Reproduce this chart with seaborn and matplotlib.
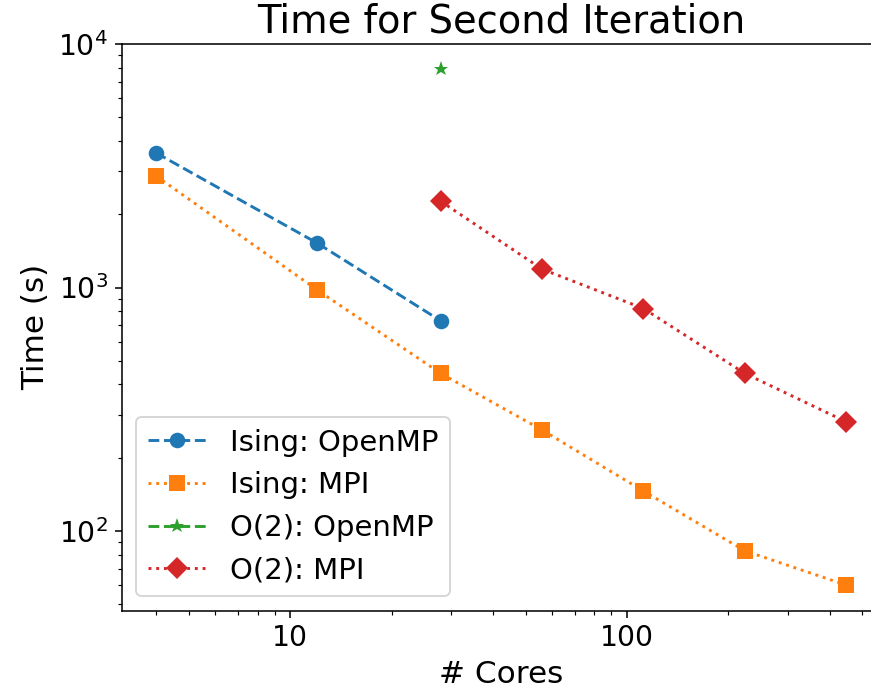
import matplotlib
matplotlib.use("Agg")
import matplotlib.pyplot as plt
import seaborn as sns
import pandas as pd

# Data
ising_omp_cores = [4, 12, 28]
ising_omp_time = [3570, 1525, 730]

ising_mpi_cores = [4, 12, 28, 56, 112, 224, 448]
ising_mpi_time = [2870, 980, 444, 260, 146, 83, 60]

o2_omp_cores = [28]
o2_omp_time = [7870]

o2_mpi_cores = [28, 56, 112, 224, 448]
o2_mpi_time = [2260, 1190, 820, 444, 281]

series_names = ["Ising: OpenMP", "Ising: MPI", "O(2): OpenMP", "O(2): MPI"]
series_cores = [ising_omp_cores, ising_mpi_cores, o2_omp_cores, o2_mpi_cores]
series_times = [ising_omp_time, ising_mpi_time, o2_omp_time, o2_mpi_time]

colors = ["#1f77b4", "#ff7f0e", "#2ca02c", "#d62728"]
markers = ["o", "s", "*", "D"]
linestyles = ["--", ":", "--", ":"]

sns.set_style("ticks")
plt.rcParams["font.family"] = ["DejaVu Sans"]
plt.rcParams["text.color"] = "black"
plt.rcParams["axes.labelcolor"] = "black"
plt.rcParams["xtick.color"] = "black"
plt.rcParams["ytick.color"] = "black"
plt.rcParams["axes.edgecolor"] = "black"

DPI = 140
fig = plt.figure(figsize=(871 / DPI, 696 / DPI), dpi=DPI)
ax = fig.add_axes([121.7 / 871, 1 - 610.7 / 696, (880.6 - 121.7) / 871, (610.7 - 44) / 696])

for name, xs, ys, c, m, ls in zip(series_names, series_cores, series_times, colors, markers, linestyles):
    df = pd.DataFrame({"cores": xs, "time": ys})
    sns.lineplot(data=df, x="cores", y="time", ax=ax, color=c, marker=m,
                 linestyle=ls, linewidth=1.5, markersize=8, markeredgewidth=0,
                 label=name, errorbar=None)

ax.set_xscale("log")
ax.set_yscale("log")
ax.set_xlim(3.16, 567)
ax.set_ylim(47.1, 10000)

ax.set_xticks([10, 100])
ax.set_xticklabels(["10", "100"])

ax.tick_params(axis="both", which="major", labelsize=14.5, length=3.5, width=0.8, direction="out")
ax.tick_params(axis="both", which="minor", length=2, width=0.6, direction="out")
for sp in ax.spines.values():
    sp.set_linewidth(0.8)
    sp.set_color("black")

ax.set_xlabel("# Cores", fontsize=16)
ax.set_ylabel("Time (s)", fontsize=16)
ax.set_title("Time for Second Iteration", fontsize=19.8)

ax.legend(loc="lower left", fontsize=15)

fig.savefig("out.png", dpi=DPI)
